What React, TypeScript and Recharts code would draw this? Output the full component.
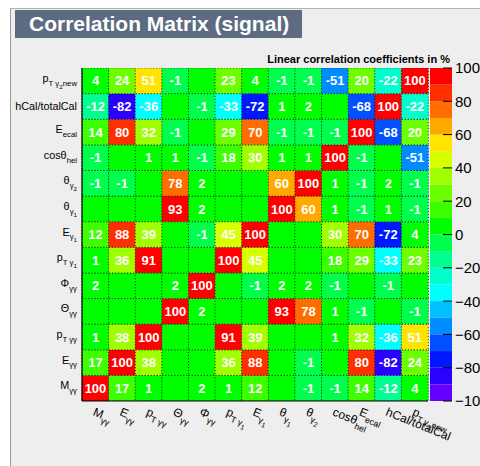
import React from 'react';
import { BarChart, Bar, XAxis, YAxis, Cell, LabelList } from 'recharts';

// variables, bottom row / left column first
const variables = ['Mγγ', 'Eγγ', 'pTγγ', 'Θγγ', 'Φγγ', 'pTγ1', 'Eγ1', 'θγ1', 'θγ2', 'cosθhel', 'Eecal', 'hCal/totalCal', 'pTγ2new'];

// label pieces: [text, level] (0 = normal, 1 = subscript, 2 = sub-subscript)
const varLabels: [string, number][][] = [
  [['M', 0], ['γγ', 1]],
  [['E', 0], ['γγ', 1]],
  [['p', 0], ['T γγ', 1]],
  [['Θ', 0], ['γγ', 1]],
  [['Φ', 0], ['γγ', 1]],
  [['p', 0], ['T γ', 1], ['1', 2]],
  [['E', 0], ['γ', 1], ['1', 2]],
  [['θ', 0], ['γ', 1], ['1', 2]],
  [['θ', 0], ['γ', 1], ['2', 2]],
  [['cosθ', 0], ['hel', 1]],
  [['E', 0], ['ecal', 1]],
  [['hCal/totalCal', 0]],
  [['p', 0], ['T γ', 1], ['2', 2], ['new', 1]],
];

// correlation (%) of row variable i with column variable j; 0 = no text
const corrRows = [
  [100, 17, 1, 0, 2, 1, 12, 0, -1, -1, 14, -12, 4],
  [17, 100, 38, 0, 0, 36, 88, 0, -1, 0, 80, -82, 24],
  [1, 38, 100, 0, 0, 91, 39, 0, 0, 1, 32, -36, 51],
  [0, 0, 0, 100, 2, 0, 0, 93, 78, 1, -1, 0, -1],
  [2, 0, 0, 2, 100, 0, -1, 2, 2, -1, 0, -1, 0],
  [1, 36, 91, 0, 0, 100, 45, 0, 0, 18, 29, -33, 23],
  [12, 88, 39, 0, -1, 45, 100, 0, 0, 30, 70, -72, 4],
  [0, 0, 0, 93, 2, 0, 0, 100, 60, 1, -1, 1, -1],
  [-1, -1, 0, 78, 2, 0, 0, 60, 100, 1, -1, 2, -1],
  [-1, 0, 1, 1, -1, 18, 30, 1, 1, 100, -1, 0, -51],
  [14, 80, 32, -1, 0, 29, 70, -1, -1, -1, 100, -68, 20],
  [-12, -82, -36, 0, -1, -33, -72, 1, 2, 0, -68, 100, -22],
  [4, 24, 51, -1, 0, 23, 4, -1, -1, -51, 20, -22, 100],
];

// palette: lower edge of each band and its colour
const paletteLevels = [-100, -90, -80, -70, -60, -50, -40, -30, -20, -10, 0, 10, 20, 30, 40, 50, 60, 70, 80, 90];
const paletteColors = [
  '#6400ff', '#2a00ff', '#0018ff', '#0050ff', '#008cff', '#00c0ff', '#00ffff', '#00ffcc', '#00ff90', '#00ff4c',
  '#00ff00', '#3cff00', '#6cff00', '#a0ff00', '#d8ff00', '#ffe400', '#ffa800', '#ff6c00', '#ff3000', '#ff0000',
];
const paletteTicks = [-100, -80, -60, -40, -20, 0, 20, 40, 60, 80, 100];
const rowTicks = [0.5, 1.5, 2.5, 3.5, 4.5, 5.5, 6.5, 7.5, 8.5, 9.5, 10.5, 11.5, 12.5];

const FONT = '"Liberation Sans", Arial, Helvetica, sans-serif';

const colorFor = (v: number) => {
  const k = Math.min(19, Math.max(0, Math.floor((v + 100) / 10)));
  return paletteColors[k];
};

const cellData = variables.map((name) => {
  const o: any = { name };
  variables.forEach((_, i) => { o['r' + i] = 1; });
  return o;
});

const paletteData = [
  Object.fromEntries([['name', 'z'], ...paletteLevels.map((l) => ['b' + l, l >= 0 ? 10 : -10])]),
];
// stack outward from 0 on both sides
const paletteOrder = [...paletteLevels.filter((l) => l >= 0), ...paletteLevels.filter((l) => l < 0).reverse()];

function segs(parts: [string, number][], base: number) {
  const sizes = [base, base * 0.72, base * 0.58];
  const offs = [0, base * 0.36, base * 0.62];
  let prev = 0;
  return parts.map(([t, lvl], k) => {
    const dy = offs[lvl] - offs[prev];
    prev = lvl;
    return <tspan key={k} fontSize={sizes[lvl]} dy={dy}>{t}</tspan>;
  });
}

const YTick = (props: any) => {
  const { x, y, payload } = props;
  const i = Math.floor(payload.value);
  const parts = varLabels[i];
  if (!parts) return null;
  const hasSub = parts.length > 1;
  return (
    <text x={x} y={y + (hasSub ? 1 : 4)} textAnchor="end" fill="#000" fontFamily={FONT}>
      {segs(parts, 10.8)}
    </text>
  );
};

const XTick = (props: any) => {
  const { x, y, payload } = props;
  const i = variables.indexOf(payload.value);
  const parts = varLabels[i];
  if (!parts) return null;
  return (
    <g transform={`translate(${x - 3},${y + 14}) rotate(22)`}>
      <text x={0} y={0} fill="#000" fontFamily={FONT}>{segs(parts, 12)}</text>
    </g>
  );
};

const PaletteTick = (props: any) => {
  const { x, y, payload } = props;
  const v = payload.value;
  const label = v < 0 ? '\u2212' + Math.abs(v) : String(v);
  return (
    <g>
      <line x1={x - 9} x2={x} y1={y} y2={y} stroke="#000" strokeWidth={1} />
      <text x={x + 3} y={y} dy="0.36em" fontSize={15} fill="#000" fontFamily={FONT}>{label}</text>
    </g>
  );
};

const renderValue = (p: any, i: number) => {
  const vb = p.viewBox ?? p;
  const { x, y, width, height } = vb;
  const v = corrRows[i][p.index];
  if (!v) return null;
  return (
    <text x={x + width / 2} y={y + height / 2} dy="0.36em" textAnchor="middle" fill="#fff"
      fontWeight="bold" fontSize={13} fontFamily={FONT}>{v}</text>
  );
};

export default function App() {
  return (
    <div style={{ position: 'absolute', left: 0, top: 0, width: 480, height: 466, background: '#fff', overflow: 'hidden', fontFamily: FONT }}>
      <div style={{ position: 'absolute', left: 10, top: 8, width: 470, height: 458, background: '#eeeeee', borderLeft: '1px solid #9a9a9a', borderTop: '1px solid #b4b4b4', boxSizing: 'border-box' }} />
      <div style={{ position: 'absolute', left: 15, top: 10, width: 287, height: 28, background: '#5c6b81', color: '#fff', fontWeight: 'bold', fontSize: 21, lineHeight: '28px', paddingLeft: 14, boxSizing: 'border-box', whiteSpace: 'nowrap' }}>
        Correlation Matrix (signal)
      </div>
      <div style={{ position: 'absolute', right: 30, top: 54, fontSize: 11, fontWeight: 'bold', lineHeight: '11px', whiteSpace: 'nowrap', color: '#000' }}>
        Linear correlation coefficients in %
      </div>

      <div style={{ position: 'absolute', left: 0, top: 0 }}>
        <BarChart width={480} height={466} data={cellData} barCategoryGap={0}
          margin={{ top: 68, right: 52, bottom: 15, left: 10 }}>
          <XAxis dataKey="name" type="category" interval={0} height={50} tickSize={0} tickMargin={0}
            tickLine={false} axisLine={{ stroke: '#000', strokeWidth: 1.2 }} tick={<XTick />} />
          <YAxis type="number" domain={[0, 13]} ticks={rowTicks} allowDataOverflow width={72}
            tickSize={0} tickMargin={5} tickLine={false} axisLine={{ stroke: '#000', strokeWidth: 1.2 }} tick={<YTick />} />
          {variables.map((_, i) => (
            <Bar key={i} dataKey={'r' + i} stackId="m" isAnimationActive={false}>
              {variables.map((__, j) => (
                <Cell key={j} fill={colorFor(corrRows[i][j])} stroke="#000" strokeWidth={1}
                  strokeDasharray="1 2" strokeOpacity={0.8} />
              ))}
              <LabelList dataKey={'r' + i} content={(p: any) => renderValue(p, i)} />
            </Bar>
          ))}
        </BarChart>
      </div>

      <div style={{ position: 'absolute', left: 0, top: 0 }}>
        <BarChart width={480} height={466} data={paletteData} barCategoryGap={0} stackOffset="sign"
          margin={{ top: 68, right: 0, bottom: 65, left: 430 }}>
          <XAxis dataKey="name" hide />
          <YAxis yAxisId={0} orientation="right" type="number" domain={[-100, 100]} ticks={paletteTicks}
            allowDataOverflow width={28} tickSize={0} tickMargin={0} tickLine={false} axisLine={false}
            tick={<PaletteTick />} />
          {paletteOrder.map((l) => (
            <Bar key={l} dataKey={'b' + l} stackId="p" isAnimationActive={false}
              fill={colorFor(l + 5)} />
          ))}
        </BarChart>
      </div>
    </div>
  );
}
